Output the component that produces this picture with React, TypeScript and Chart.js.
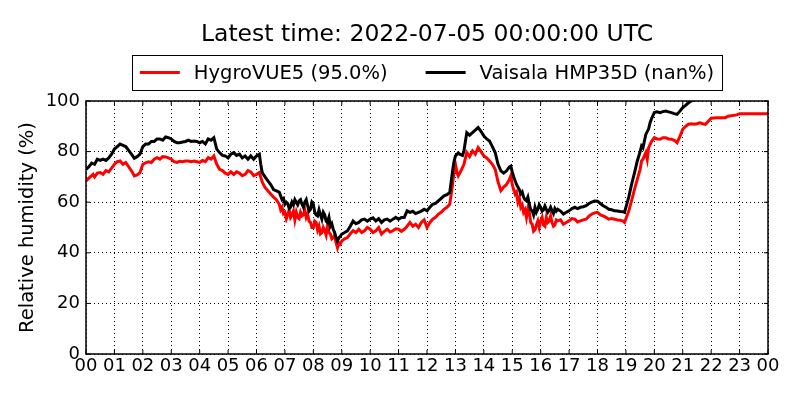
import React, { useEffect, useRef } from "react";
import { Chart, registerables } from "chart.js";
Chart.register(...registerables);

const titleText = "Latest time: 2022-07-05 00:00:00 UTC";
const yAxisLabel = "Relative humidity (%)";
const seriesNames = ["HygroVUE5 (95.0%)", "Vaisala HMP35D (nan%)"];
const seriesColors = ["#ff0000", "#000000"];
const xTickLabels = ["00","01","02","03","04","05","06","07","08","09","10","11","12","13","14","15","16","17","18","19","20","21","22","23","00"];

const hygroTimes = [0.0,0.1,0.2,0.25,0.3,0.4,0.5,0.6,0.7,0.8,0.9,1.0,1.1,1.2,1.3,1.4,1.5,1.6,1.7,1.8,1.9,2.0,2.1,2.2,2.3,2.4,2.5,2.6,2.7,2.8,2.9,3.0,3.1,3.2,3.3,3.4,3.5,3.6,3.7,3.8,3.9,4.0,4.1,4.2,4.3,4.4,4.5,4.6,4.7,4.8,4.9,5.0,5.1,5.2,5.3,5.4,5.5,5.6,5.7,5.8,5.9,6.0,6.1,6.2,6.3,6.4,6.5,6.6,6.7,
  6.8,6.85,6.9,6.95,7.0,7.05,7.1,7.15,7.2,7.25,7.3,7.35,7.4,7.45,7.5,7.55,7.6,7.65,7.7,7.75,7.8,7.85,7.9,7.95,8.0,8.05,8.1,8.15,8.2,8.25,8.3,8.35,8.4,8.45,8.5,8.55,8.6,8.65,8.7,8.75,8.8,8.85,8.9,8.95,
  9.0,9.1,9.2,9.3,9.4,9.5,9.6,9.7,9.8,9.9,10.0,10.1,10.2,10.3,10.4,10.5,10.6,10.7,10.8,10.9,11.0,11.1,11.2,11.3,11.4,11.5,11.6,11.7,11.8,11.9,12.0,12.1,12.2,12.3,12.4,12.5,12.6,12.7,12.8,12.85,12.9,12.95,13.0,13.05,13.1,13.2,13.3,13.4,13.5,13.6,13.7,13.8,13.9,14.0,14.1,14.2,14.3,14.4,14.5,14.6,14.7,14.8,14.9,14.95,
  15.0,15.05,15.1,15.15,15.2,15.25,15.3,15.35,15.4,15.45,15.5,15.55,15.6,15.65,15.7,15.75,15.8,15.85,15.9,15.95,16.0,16.05,16.1,16.15,16.2,16.25,16.3,16.35,16.4,16.45,16.5,16.55,16.6,
  16.7,16.8,16.9,17.0,17.1,17.2,17.3,17.4,17.5,17.6,17.7,17.8,17.9,18.0,18.1,18.2,18.3,18.4,18.5,18.6,18.7,18.8,18.9,18.95,19.1,19.2,19.3,19.4,19.5,19.55,19.6,19.7,19.75,19.8,19.9,20.0,20.1,20.2,20.3,20.4,20.5,20.6,20.7,20.8,20.9,21.0,21.1,21.2,21.3,21.4,21.5,21.6,21.7,21.8,21.9,22.0,22.2,22.5,22.6,22.9,23.0,23.5,24.0];
const hygroValues = [68.4,69.5,70.5,71,70,71.5,71.7,71,72.5,72,73.5,75,76,76.3,75,75.7,74,72.4,70.4,70.8,71.7,75,75.5,76,75.7,77,77.6,77,78,77.9,77.5,77,76,75.7,76.2,76,76.3,76.3,76,76.3,76,75.7,76.5,76,77.6,77,78.3,75,73,72.5,71.5,71,72,71,72,71.5,70.5,71,72.5,72,70.5,71,71.7,68,65.8,64.5,63.2,62,61,
  59.2,57,58,55.5,56,53.5,55,57,54,55,56.5,53,56,54,53.5,56,54.6,55,57,54,55.3,52.5,52,50,50,52.5,52,49,50.6,47.5,48,50,48.7,47,51,48,47.4,45.5,46,47,44,42,44,43.5,
  44.7,45.5,46,47.5,48.7,48,49.3,48,48.7,50,49.3,48,48.7,50,47.4,48.5,49.3,48.2,48.7,49.5,49.3,48.5,49.3,50.5,52,50.5,51.3,50,52,53,50,52,53.3,54,55.3,56,57.2,58,59.2,63,67,72,75,72,70.4,72.5,75,79.6,78,80.3,79,81.6,80,78.3,77.5,76.3,75,73,68,64.6,66,67,69,70.4,
  67,65,63.2,64,60,61.5,58,59,56,57,54,57.5,56,52,51.3,48.5,49,51,52.6,50,52.6,54,51,50.5,54,52,52.5,54.5,52,50.5,51,53,52.6,
  53,51.3,52,52.6,53.5,53.3,52.2,52.6,53,53.3,54.5,55.3,55.8,56,55,54.6,54,53.3,53.5,53.3,53,52.9,52.5,52,56.5,60.6,65,69,73,76.3,77,79.6,77,81.6,84,85.5,85,84.9,85.5,85.5,85,84.9,84.5,83.5,86,88.8,90,90.8,91,90.8,91,91.4,91,90.8,92,93.2,93.4,93.4,94,94.5,95,95,95];

const vaisalaTimes = [0.0,0.1,0.2,0.3,0.4,0.5,0.6,0.7,0.8,0.9,1.0,1.1,1.2,1.3,1.4,1.5,1.6,1.7,1.8,1.9,2.0,2.1,2.2,2.3,2.4,2.5,2.6,2.7,2.8,2.9,3.0,3.1,3.2,3.3,3.4,3.5,3.6,3.7,3.8,3.9,4.0,4.1,4.2,4.3,4.4,4.5,4.6,4.7,4.8,4.9,5.0,5.1,5.2,5.3,5.4,5.5,5.6,5.7,5.8,5.9,6.0,6.1,6.15,6.2,6.3,6.4,6.5,6.6,6.7,
  6.8,6.85,6.9,6.95,7.0,7.05,7.1,7.15,7.2,7.25,7.3,7.35,7.4,7.45,7.5,7.55,7.6,7.65,7.7,7.75,7.8,7.85,7.9,7.95,8.0,8.05,8.1,8.15,8.2,8.25,8.3,8.35,8.4,8.45,8.5,8.55,8.6,8.65,8.7,8.75,8.8,8.85,8.9,8.95,
  9.0,9.1,9.2,9.3,9.4,9.5,9.6,9.7,9.8,9.9,10.0,10.1,10.2,10.3,10.4,10.5,10.6,10.7,10.8,10.9,11.0,11.1,11.2,11.3,11.4,11.5,11.6,11.7,11.8,11.9,12.0,12.1,12.2,12.3,12.4,12.5,12.6,12.7,12.8,12.85,12.9,12.95,13.0,13.1,13.15,13.25,13.3,13.4,13.5,13.6,13.7,13.8,13.9,14.0,14.1,14.2,14.3,14.4,14.5,14.6,14.7,14.8,14.9,14.95,
  15.0,15.05,15.1,15.15,15.2,15.25,15.3,15.35,15.4,15.45,15.5,15.55,15.6,15.65,15.7,15.75,15.8,15.85,15.9,15.95,16.0,16.05,16.1,16.15,16.2,16.25,16.3,16.35,16.4,16.45,16.5,16.55,16.6,
  16.7,16.8,16.9,17.0,17.1,17.2,17.3,17.4,17.5,17.6,17.7,17.8,17.9,18.0,18.1,18.2,18.3,18.4,18.5,18.6,18.7,18.8,18.9,18.95,19.1,19.2,19.3,19.4,19.5,19.55,19.6,19.7,19.8,19.85,19.9,20.0,20.1,20.2,20.3,20.4,20.5,20.6,20.7,20.8,20.9,21.0,21.1,21.2,21.3,21.4,21.6,21.8];
const vaisalaValues = [73,74,75.5,75,77,76.5,77,76.5,77.5,79,81,82,83,82.5,82,80.5,79,77.4,78,79,82,83,83,84,84,85,85,84.5,85.8,85.5,85,84,83.5,83.5,83.8,84,84.5,84,84.2,84,83.5,84,83,85,84.5,85.5,81,79.6,78.5,78.3,77.5,79,79.6,78.5,79,77.5,78.3,77,78.3,77,78.3,79,75,71.7,70,68.4,67,65,64.5,
  64,62.5,61,61.5,59.2,60,59.5,57.5,58,60,59,61,60,59,60.5,61,59.2,58,60,61,58.6,56.5,57.2,60,59.2,56,55,54.6,57,55,53.3,56,55,52.5,52,54,50.5,51.5,49.3,48,46,44.7,46,46.5,
  47.4,48,48.7,50.5,52.6,51.5,52,53,53.3,52.5,53.3,53.8,52.6,53.5,52,53,53.3,52.5,53.3,54,53.3,54,54,56.6,56,56.4,55.5,56,56.5,57.2,56.6,58,59.2,59.5,60.5,61.5,62.5,63,63.8,68,72.4,76,78.3,79.5,79,78.5,80.3,87.5,86.5,87.5,88.5,89.5,88,86.2,85,84.2,82,79.6,75,72.4,71.5,72.4,74,74.3,
  72,70,68.5,67,66,65,63.3,64,62,61,60.6,62,59.2,57,56.6,55,58,56,57.2,59,58,56.5,57,58.5,57.2,56,56.8,58,56.6,55.5,57.5,56.5,57.2,
  56.5,55.3,56,56.6,57.5,58,57.5,58,58.2,58.6,59.5,60,60.5,60.4,59.5,58.6,58,57.2,57,56.6,56.5,56.3,56.2,56,62,67.1,71.5,76.3,80,82.2,81.5,86.8,89,91.4,93,95.4,95.7,95.4,95.8,96,95.7,95.4,95,94.7,96,97.4,98.3,99.3,100,100.5,101,101.5];

const FONT = "'DejaVu Sans'";

const decorPlugin = {
  id: "decor",
  afterDatasetsDraw(chart: any) {
    const { ctx, chartArea: a } = chart;
    ctx.save();
    ctx.strokeStyle = "#000";
    ctx.lineWidth = 1.5;
    ctx.strokeRect(a.left, a.top, a.right - a.left, a.bottom - a.top);
    ctx.lineWidth = 1;
    const xs = chart.scales.x;
    const ys = chart.scales.y;
    for (const t of xs.ticks) {
      const px = xs.getPixelForValue(t.value);
      ctx.beginPath();
      ctx.moveTo(px, a.bottom); ctx.lineTo(px, a.bottom - 4);
      ctx.moveTo(px, a.top); ctx.lineTo(px, a.top + 4);
      ctx.stroke();
    }
    for (const t of ys.ticks) {
      const py = ys.getPixelForValue(t.value);
      ctx.beginPath();
      ctx.moveTo(a.left, py); ctx.lineTo(a.left + 4, py);
      ctx.moveTo(a.right, py); ctx.lineTo(a.right - 4, py);
      ctx.stroke();
    }
    ctx.restore();
  },
  afterDraw(chart: any) {
    const { ctx, chartArea: a } = chart;
    const cx = (a.left + a.right) / 2;
    ctx.save();
    ctx.fillStyle = "#000";
    ctx.font = `23.5px ${FONT}`;
    ctx.textAlign = "center";
    ctx.textBaseline = "middle";
    ctx.fillText(titleText, cx, 35);

    ctx.font = `19.5px ${FONT}`;
    const ds = chart.data.datasets;
    const lineLen = 40, gap = 14, itemGap = 38, padL = 8, padR = 8;
    const widths = ds.map((d: any) => ctx.measureText(d.label).width);
    let total = padL + padR;
    widths.forEach((w: number, i: number) => { total += lineLen + gap + w + (i > 0 ? itemGap : 0); });
    const boxL = cx - total / 2, boxT = 55, boxH = 35;
    ctx.fillStyle = "#fff";
    ctx.fillRect(boxL, boxT, total, boxH);
    ctx.strokeStyle = "#000";
    ctx.lineWidth = 1;
    ctx.strokeRect(Math.round(boxL) + 0.5, boxT + 0.5, Math.round(total), boxH);
    let x = boxL + padL;
    const ym = boxT + boxH / 2;
    ds.forEach((d: any, i: number) => {
      if (i > 0) x += itemGap;
      ctx.strokeStyle = d.borderColor;
      ctx.lineWidth = 3;
      ctx.beginPath();
      ctx.moveTo(x, ym); ctx.lineTo(x + lineLen, ym);
      ctx.stroke();
      x += lineLen + gap;
      ctx.fillStyle = "#000";
      ctx.textAlign = "left";
      ctx.textBaseline = "middle";
      ctx.fillText(d.label, x, ym + 1);
      x += widths[i];
    });
    ctx.restore();
  },
};

export default function App() {
  const ref = useRef<HTMLCanvasElement | null>(null);
  useEffect(() => {
    if (!ref.current) return;
    const chart = new Chart(ref.current, {
      type: "line",
      data: {
        datasets: [
          {
            label: seriesNames[0],
            data: hygroTimes.map((t, i) => ({ x: t, y: hygroValues[i] })),
            borderColor: seriesColors[0],
            borderWidth: 3,
            pointRadius: 0,
            tension: 0,
            clip: 0,
            order: 1,
          },
          {
            label: seriesNames[1],
            data: vaisalaTimes.map((t, i) => ({ x: t, y: vaisalaValues[i] })),
            borderColor: seriesColors[1],
            borderWidth: 3,
            pointRadius: 0,
            tension: 0,
            clip: 0,
            order: 0,
          },
        ],
      },
      options: {
        animation: false,
        responsive: false,
        devicePixelRatio: 1,
        layout: { padding: { top: 101, right: 32, left: 0, bottom: 0 } },
        plugins: {
          legend: { display: false },
          title: { display: false },
          tooltip: { enabled: false },
        },
        scales: {
          x: {
            type: "linear",
            min: 0,
            max: 24,
            afterFit: (s: any) => { s.height = 46; },
            ticks: {
              stepSize: 1,
              autoSkip: false,
              maxRotation: 0,
              padding: 2,
              color: "#000",
              font: { family: "DejaVu Sans", size: 18 },
              callback: (v: any) => xTickLabels[Number(v)] ?? "",
            },
            grid: { color: "#000", lineWidth: 1, drawTicks: false },
            border: { display: false, dash: [1, 3] },
          },
          y: {
            min: 0,
            max: 100,
            afterFit: (s: any) => { s.width = 86; },
            ticks: {
              stepSize: 20,
              padding: 6,
              color: "#000",
              font: { family: "DejaVu Sans", size: 18 },
            },
            grid: { color: "#000", lineWidth: 1, drawTicks: false },
            border: { display: false, dash: [1, 3] },
            title: {
              display: true,
              text: yAxisLabel,
              color: "#000",
              font: { family: "DejaVu Sans", size: 19.5 },
              padding: { top: 16, bottom: 0 },
            },
          },
        },
      },
      plugins: [decorPlugin],
    } as any);
    return () => chart.destroy();
  }, []);
  return (
    <div style={{ position: "fixed", left: 0, top: 0, width: 800, height: 400, background: "#fff" }}>
      <canvas ref={ref} width={800} height={400} />
    </div>
  );
}
